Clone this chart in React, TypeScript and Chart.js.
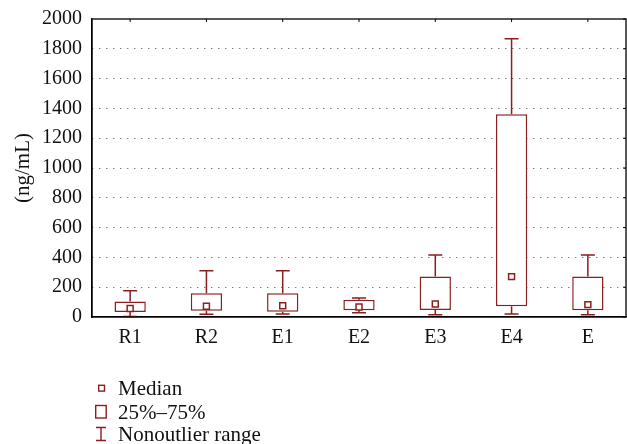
import React, { useEffect, useRef } from "react";
import { Chart, registerables } from "chart.js";

Chart.register(...registerables);

const categories = ["R1", "R2", "E1", "E2", "E3", "E4", "E"];
const whiskerMin = [3, 18, 20, 29, 15, 20, 15];
const q1 = [33, 42, 36, 45, 47, 72, 45];
const median = [57, 72, 76, 67, 87, 271, 83];
const q3 = [104, 159, 159, 116, 271, 1360, 271];
const whiskerMax = [176, 311, 311, 128, 416, 1868, 416];
const yTicks = [0, 200, 400, 600, 800, 1000, 1200, 1400, 1600, 1800, 2000];

const RED = "#8B1F1F";
const FONT = "'Liberation Serif', 'DejaVu Serif', serif";

const boxPlugin = {
  id: "boxWhiskers",
  beforeDatasetsDraw(chart: any) {
    const { ctx, scales } = chart;
    const xs = scales.x;
    const ys = scales.y;
    ctx.save();
    ctx.strokeStyle = RED;
    ctx.lineWidth = 1.5;
    const cap = 7;
    categories.forEach((_, i) => {
      const x = xs.getPixelForValue(i);
      const yMax = ys.getPixelForValue(whiskerMax[i]);
      const yQ3 = ys.getPixelForValue(q3[i]);
      const yQ1 = ys.getPixelForValue(q1[i]);
      const yMin = ys.getPixelForValue(whiskerMin[i]);
      ctx.beginPath();
      ctx.moveTo(x, yQ3);
      ctx.lineTo(x, yMax);
      ctx.moveTo(x - cap, yMax);
      ctx.lineTo(x + cap, yMax);
      ctx.moveTo(x, yQ1);
      ctx.lineTo(x, yMin);
      ctx.moveTo(x - cap, yMin);
      ctx.lineTo(x + cap, yMin);
      ctx.stroke();
    });
    ctx.restore();
  },
  afterDraw(chart: any) {
    const { ctx, chartArea, scales } = chart;
    const { left, right, top, bottom } = chartArea;
    ctx.save();
    ctx.strokeStyle = "#000";
    ctx.lineWidth = 1.3;
    ctx.strokeRect(left, top, right - left, bottom - top);
    ctx.lineWidth = 1;
    ctx.beginPath();
    categories.forEach((_, i) => {
      const x = scales.x.getPixelForValue(i);
      ctx.moveTo(x, top);
      ctx.lineTo(x, top + 3);
    });
    yTicks.forEach((v) => {
      const y = scales.y.getPixelForValue(v);
      ctx.moveTo(right, y);
      ctx.lineTo(right - 3, y);
    });
    ctx.stroke();
    ctx.restore();
  },
};

export default function App() {
  const ref = useRef<HTMLCanvasElement>(null);
  useEffect(() => {
    const chart = new Chart(ref.current!, {
      type: "bar",
      data: {
        labels: categories,
        datasets: [
          {
            type: "bar",
            label: "25%–75%",
            data: categories.map((_, i) => [q1[i], q3[i]]) as any,
            backgroundColor: "#ffffff",
            borderColor: RED,
            borderWidth: 1.5,
            borderSkipped: false,
            barPercentage: 0.41,
            categoryPercentage: 1,
            order: 2,
          },
          {
            type: "line",
            label: "Median",
            data: median,
            showLine: false,
            pointStyle: "rect",
            pointRadius: 4.2,
            pointBorderWidth: 1.5,
            pointBorderColor: RED,
            pointBackgroundColor: "#ffffff",
            order: 1,
          } as any,
        ],
      },
      options: {
        animation: false,
        responsive: true,
        maintainAspectRatio: false,
        layout: { autoPadding: false, padding: { top: 19, right: 1, left: 0, bottom: 0 } },
        plugins: {
          legend: { display: false },
          tooltip: { enabled: false },
        },
        scales: {
          x: {
            grid: { display: false, drawTicks: false },
            border: { display: true, color: "#000", width: 1.3 },
            ticks: {
              color: "#111",
              padding: 9,
              font: { family: FONT, size: 20 },
            },
            afterFit: (s: any) => {
              s.height = 127;
              s.paddingLeft = 0;
              s.paddingRight = 0;
            },
          },
          y: {
            min: 0,
            max: 2000,
            afterBuildTicks: (s: any) => {
              s.ticks = yTicks.map((v) => ({ value: v }));
            },
            grid: {
              drawTicks: false,
              color: (c: any) =>
                c.tick && (c.tick.value === 0 || c.tick.value === 2000)
                  ? "rgba(0,0,0,0)"
                  : "#444",
              lineWidth: 1,
            },
            border: { display: true, color: "#000", width: 1.3, dash: [1, 6] },
            ticks: {
              color: "#111",
              padding: 10,
              font: { family: FONT, size: 20 },
              callback: (v: any) => String(v),
            },
            title: {
              display: true,
              text: "(ng/mL)",
              color: "#111",
              font: { family: FONT, size: 21 },
              padding: { top: 11, bottom: 0 },
            },
            afterFit: (s: any) => {
              s.width = 92;
              s.paddingTop = 0;
              s.paddingBottom = 0;
            },
          },
        },
      },
      plugins: [boxPlugin],
    });
    return () => chart.destroy();
  }, []);

  const textStyle: React.CSSProperties = {
    position: "absolute",
    left: 118,
    fontFamily: FONT,
    fontSize: 21,
    lineHeight: "24px",
    color: "#111",
    whiteSpace: "nowrap",
  };

  return (
    <div
      style={{
        position: "absolute",
        left: 0,
        top: 0,
        width: 627,
        height: 444,
        background: "#fff",
        overflow: "hidden",
      }}
    >
      <div style={{ position: "absolute", left: 0, top: 0, width: 627, height: 444 }}>
        <canvas ref={ref} />
      </div>
      <svg
        width={627}
        height={444}
        style={{ position: "absolute", left: 0, top: 0, pointerEvents: "none" }}
      >
        <rect x={98.7} y={385.3} width={5.8} height={5.8} fill="#fff" stroke={RED} strokeWidth={1.4} />
        <rect x={95.7} y={405.5} width={10.5} height={12.5} fill="#fff" stroke={RED} strokeWidth={1.4} />
        <path d="M96 427.5 H106 M101 427.5 V440.5 M96 440.5 H106" stroke={RED} strokeWidth={1.4} fill="none" />
      </svg>
      <div style={{ ...textStyle, top: 376 }}>Median</div>
      <div style={{ ...textStyle, top: 400 }}>25%–75%</div>
      <div style={{ ...textStyle, top: 422 }}>Nonoutlier range</div>
    </div>
  );
}
